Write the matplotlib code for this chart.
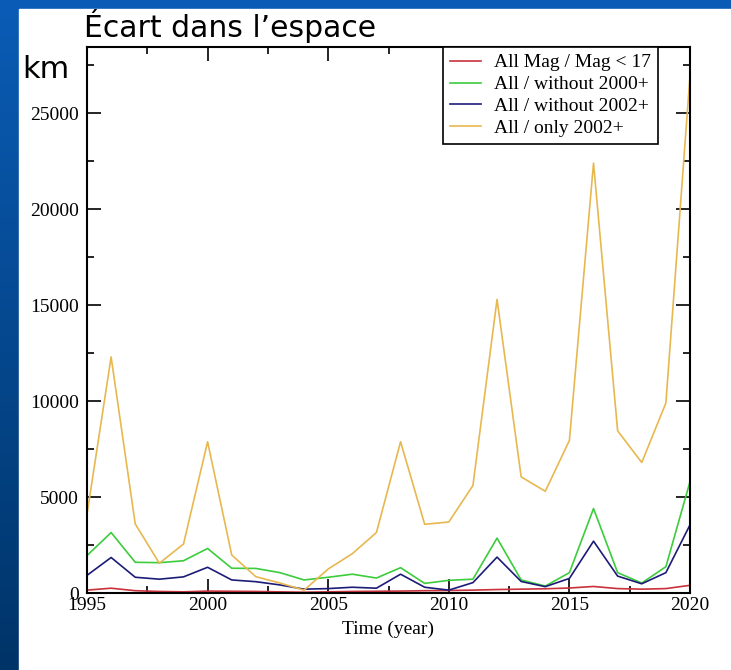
import matplotlib
matplotlib.use("Agg")
import matplotlib.pyplot as plt
import numpy as np
from matplotlib.colors import LinearSegmentedColormap
from matplotlib.patches import Rectangle
from matplotlib.ticker import MultipleLocator

years = np.arange(1995, 2021)

# km, one value per year
mag17 = [150, 250, 120, 80, 60, 100, 90, 80, 60, 40, 60, 80, 90, 100, 120, 130, 150, 180, 200, 220, 260, 340, 230, 200, 230, 400]
without_2000 = [1950, 3150, 1600, 1580, 1680, 2320, 1290, 1280, 1060, 680, 820, 980, 780, 1320, 500, 660, 720, 2860, 680, 360, 1060, 4400, 1060, 520, 1370, 5800]
without_2002 = [920, 1850, 820, 720, 840, 1340, 680, 590, 420, 200, 230, 300, 250, 980, 300, 150, 540, 1870, 600, 330, 760, 2700, 880, 480, 1060, 3550]
only_2002 = [4100, 12300, 3600, 1550, 2550, 7880, 1980, 850, 520, 150, 1250, 2050, 3150, 7880, 3580, 3700, 5600, 15300, 6050, 5300, 7950, 22400, 8450, 6800, 9900, 26950]

labels = ["All Mag / Mag < 17", "All / without 2000+", "All / without 2002+", "All / only 2002+"]
colors = ["#c8323c", "#3ccc3c", "#1c1c78", "#e8b850"]

W, H = 731, 670
fig = plt.figure(figsize=(W / 100, H / 100), dpi=100)

# slide background: blue gradient with white panel
bg = fig.add_axes([0, 0, 1, 1])
bg.axis("off")
cmap = LinearSegmentedColormap.from_list("slide", ["#0a5cb6", "#003468"])
bg.imshow(np.linspace(0, 1, 256).reshape(-1, 1), cmap=cmap, aspect="auto",
          extent=[0, 1, 0, 1])
bg.set_xlim(0, 1)
bg.set_ylim(0, 1)
bg.add_patch(Rectangle((19 / W, 0), 1 - 19 / W, (H - 9) / H, color="white",
                       transform=fig.transFigure, zorder=2))

fig.text(84 / W, 1 - 37 / H, "Écart dans l’espace", fontsize=21.5,
         family="DejaVu Sans", va="baseline", ha="left", color="black")
fig.text(22 / W, 1 - 78 / H, "km", fontsize=22, family="DejaVu Sans",
         va="baseline", ha="left", color="black")

ax = fig.add_axes([87 / W, 77 / H, 603 / W, 546 / H])
for vals, lab, col in zip([mag17, without_2000, without_2002, only_2002], labels, colors):
    ax.plot(years, vals, color=col, lw=1.2, label=lab)

ax.set_xlim(1995, 2020)
ax.set_ylim(0, 28450)
ax.xaxis.set_major_locator(MultipleLocator(5))
ax.xaxis.set_minor_locator(MultipleLocator(2.5))
ax.yaxis.set_major_locator(MultipleLocator(5000))
ax.yaxis.set_minor_locator(MultipleLocator(2500))
ax.tick_params(which="both", direction="in", top=True, right=True, width=1.2,
               labelsize=14)
ax.tick_params(axis="y", pad=6)
ax.tick_params(axis="x", pad=3)
ax.tick_params(which="major", length=10)
ax.tick_params(which="minor", length=5)
for lab in ax.get_xticklabels() + ax.get_yticklabels():
    lab.set_family("Liberation Serif")
for s in ax.spines.values():
    s.set_linewidth(1.5)
ax.set_xlabel("Time (year)", fontsize=14, family="Liberation Serif", labelpad=5)

leg = ax.legend(loc="upper right", bbox_to_anchor=(0.947, 1.0),
                prop={"family": "Liberation Serif", "size": 14},
                fancybox=False, framealpha=1, edgecolor="black",
                handlelength=1.6, handletextpad=0.7, borderaxespad=0,
                labelspacing=0.22, borderpad=0.35)
leg.get_frame().set_linewidth(1.2)

fig.savefig("out.png", dpi=100)
